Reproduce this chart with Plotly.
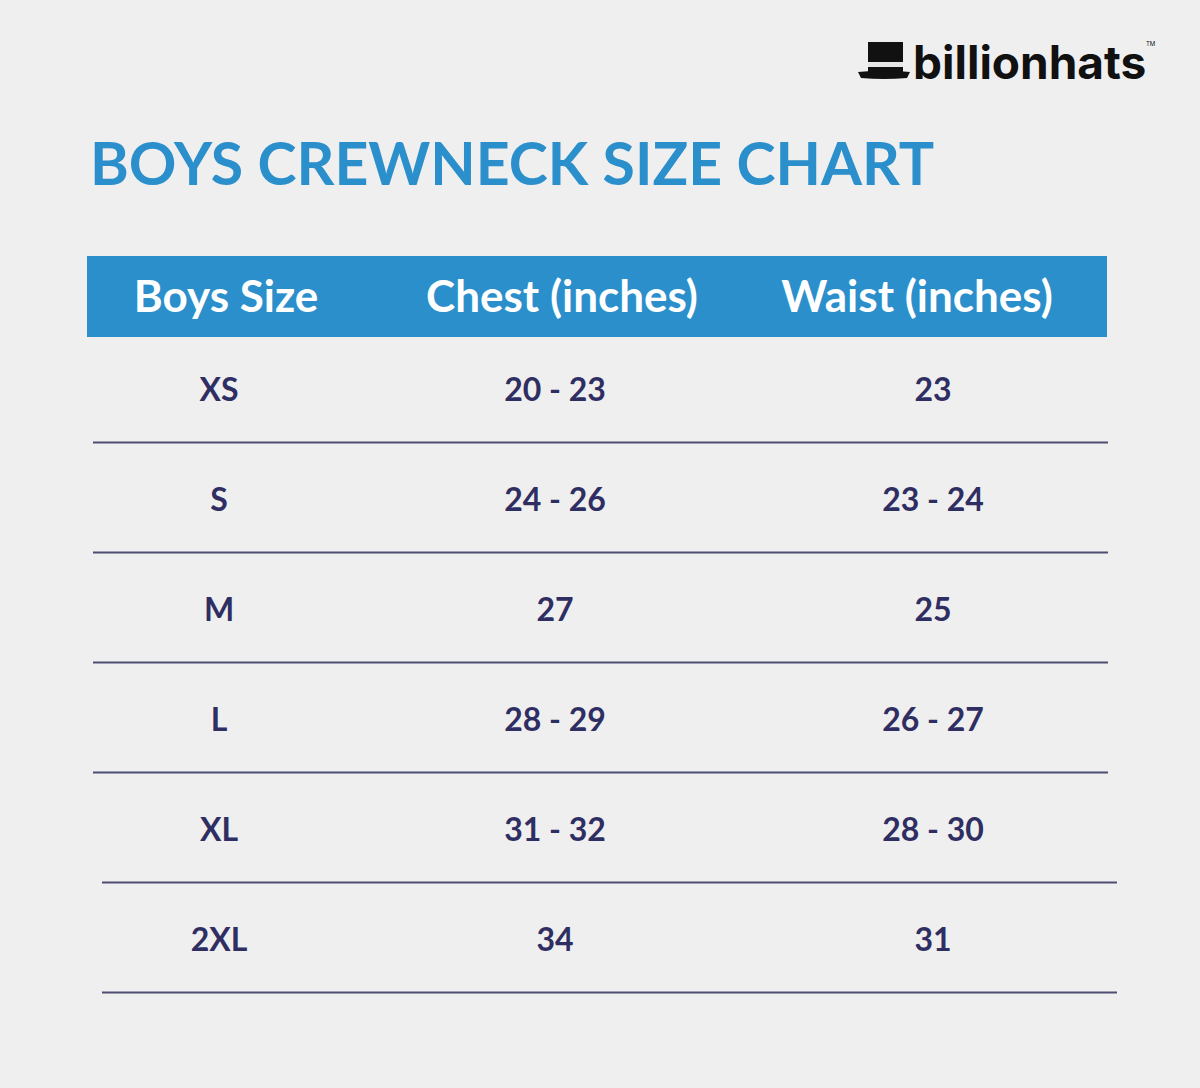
import plotly.graph_objects as go

# ---------------- data ----------------
title = "BOYS CREWNECK SIZE CHART"
headers = ["Boys Size", "Chest (inches)", "Waist (inches)"]
sizes = ["XS", "S", "M", "L", "XL", "2XL"]
chest = ["20 - 23", "24 - 26", "27", "28 - 29", "31 - 32", "34"]
waist = ["23", "23 - 24", "25", "26 - 27", "28 - 30", "31"]
brand = "billionhats"

# ---------------- style / layout ----------------
W, H = 1200, 1088
BG = "#EFEFEF"
BLUE = "#2B8FCC"
NAVY = "#2F2E63"
LINE = "#4E4E72"
FONT = "Lato"
col_x = [219, 555, 933]        # column centres (x axis in px units)
header_x = [226, 562, 917]
ROW0, PITCH = 393, 110         # row index -> pixel mapping of the y axis


def row_of(py):
    """pixel y -> row-index units"""
    return (py - ROW0) / PITCH


def px(x):
    return x / W


def py(y):
    return 1 - y / H


fig = go.Figure()

# body cells
columns = [sizes, chest, waist]
for cx, vals in zip(col_x, columns):
    fig.add_trace(go.Scatter(
        x=[cx] * len(vals), y=list(range(len(vals))), mode="text", text=vals,
        textfont=dict(family=FONT, size=32, color=NAVY, weight="bold"),
        textposition="middle center", hoverinfo="skip", showlegend=False))

shapes = []
# header band
shapes.append(dict(type="rect", xref="x", yref="y", x0=87, x1=1107,
                   y0=row_of(256), y1=row_of(337), fillcolor=BLUE, line_width=0, layer="below"))
# header text
fig.add_trace(go.Scatter(
    x=header_x, y=[row_of(301)] * 3, mode="text", text=headers,
    textfont=dict(family=FONT, size=44, color="white", weight="bold"),
    hoverinfo="skip", showlegend=False))

# row separators
for i in range(len(sizes)):
    x0, x1 = (93, 1108) if i < 4 else (102, 1117)
    shapes.append(dict(type="line", xref="x", yref="y", x0=x0, x1=x1,
                       y0=i + 0.45, y1=i + 0.45, line=dict(color=LINE, width=2)))

# logo hat
shapes.append(dict(type="rect", xref="paper", yref="paper", x0=px(868), x1=px(903),
                   y0=py(42), y1=py(73), fillcolor="#111111", line_width=0))
shapes.append(dict(type="rect", xref="paper", yref="paper", x0=px(868), x1=px(903),
                   y0=py(62), y1=py(67), fillcolor="#E6E6E6", line_width=0))
brim = "M {a},{b} Q {c},{d} {e},{b} L {f},{g} Q {c},{h} {i},{g} Z".format(
    a=px(858), b=py(72), c=px(884), d=py(69), e=px(910), f=px(907), g=py(78),
    h=py(80), i=px(861))
shapes.append(dict(type="path", xref="paper", yref="paper", path=brim,
                   fillcolor="#111111", line_width=0))

annotations = [
    dict(text=title, xref="paper", yref="paper", x=px(88), y=py(162),
         xanchor="left", yanchor="middle", showarrow=False,
         font=dict(family=FONT, size=59, color=BLUE, weight="bold")),
    dict(text=brand, xref="paper", yref="paper", x=px(911), y=py(62),
         xanchor="left", yanchor="middle", showarrow=False,
         font=dict(family="Inter", size=46, color="#111111", weight="bold")),
    dict(text="TM", xref="paper", yref="paper", x=px(1150), y=py(44),
         xanchor="center", yanchor="middle", showarrow=False,
         font=dict(family="Inter", size=6, color="#111111")),
]

fig.update_layout(
    width=W, height=H, margin=dict(l=0, r=0, t=0, b=0),
    paper_bgcolor=BG, plot_bgcolor=BG,
    xaxis=dict(range=[0, W], visible=False, fixedrange=True),
    yaxis=dict(range=[row_of(H), row_of(0)], visible=False, fixedrange=True),
    shapes=shapes, annotations=annotations, showlegend=False,
)

fig.write_html(
    "out.html",
    config={"displayModeBar": False},
    post_script="document.body.style.margin='0';document.body.style.background='#EFEFEF';",
)
